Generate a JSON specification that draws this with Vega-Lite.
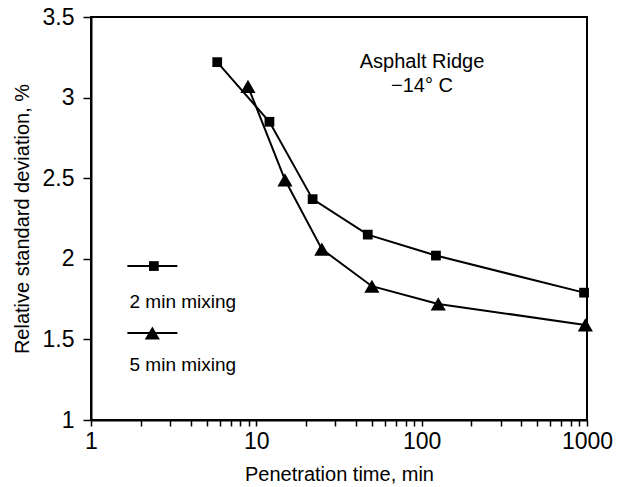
{
  "$schema": "https://vega.github.io/schema/vega-lite/v6.json",
  "width": 496,
  "height": 403,
  "autosize": {"type": "none"},
  "padding": {"left": 91, "top": 17, "right": 47, "bottom": 67},
  "background": "white",
  "config": {
    "font": "Liberation Sans",
    "view": {"stroke": "black", "strokeWidth": 2},
    "axis": {
      "grid": false,
      "domainColor": "black",
      "domainWidth": 2,
      "tickColor": "black",
      "tickWidth": 1.5,
      "labelColor": "black",
      "titleColor": "black",
      "labelFont": "Liberation Sans",
      "titleFont": "Liberation Sans",
      "titleFontWeight": "normal",
      "labelFontSize": 23,
      "titleFontSize": 20
    }
  },
  "datasets": {
    "series": [
      {"time": 5.8, "rsd": 3.22, "mixing": "2 min mixing"},
      {"time": 12.0, "rsd": 2.85, "mixing": "2 min mixing"},
      {"time": 21.9, "rsd": 2.37, "mixing": "2 min mixing"},
      {"time": 47.2, "rsd": 2.15, "mixing": "2 min mixing"},
      {"time": 122, "rsd": 2.02, "mixing": "2 min mixing"},
      {"time": 960, "rsd": 1.79, "mixing": "2 min mixing"},
      {"time": 8.9, "rsd": 3.07, "mixing": "5 min mixing"},
      {"time": 14.9, "rsd": 2.49, "mixing": "5 min mixing"},
      {"time": 24.9, "rsd": 2.06, "mixing": "5 min mixing"},
      {"time": 50, "rsd": 1.83, "mixing": "5 min mixing"},
      {"time": 126, "rsd": 1.72, "mixing": "5 min mixing"},
      {"time": 977, "rsd": 1.59, "mixing": "5 min mixing"}
    ],
    "legend": [
      {"x1": 1.66, "x2": 3.33, "xm": 2.4, "y": 1.955, "ty": 1.73, "tx": 1.71, "mixing": "2 min mixing"},
      {"x1": 1.66, "x2": 3.33, "xm": 2.35, "y": 1.54, "ty": 1.34, "tx": 1.71, "mixing": "5 min mixing"}
    ],
    "notes": [
      {"x": 100.5, "y": 3.22, "text": "Asphalt Ridge"},
      {"x": 100.5, "y": 3.07, "text": "−14° C"}
    ]
  },
  "encoding": {
    "x": {
      "field": "time", "type": "quantitative",
      "scale": {"type": "log", "domain": [1, 1000], "nice": false},
      "axis": {
        "title": "Penetration time, min",
        "values": [1,2,3,4,5,6,7,8,9,10,20,30,40,50,60,70,80,90,100,200,300,400,500,600,700,800,900,1000],
        "labelExpr": "datum.value == 1 || datum.value == 10 || datum.value == 100 || datum.value == 1000 ? toString(datum.value) : ''",
        "tickSize": 6,
        "labelPadding": 4,
        "titlePadding": 11,
        "labelFlush": false,
        "labelOverlap": false
      }
    },
    "y": {
      "field": "rsd", "type": "quantitative",
      "scale": {"domain": [1, 3.5], "nice": false, "zero": false},
      "axis": {
        "title": "Relative standard deviation, %",
        "values": [1, 1.5, 2, 2.5, 3, 3.5],
        "format": "~g",
        "tickSize": 8,
        "labelPadding": 9,
        "titlePadding": 10,
        "labelFlush": false
      }
    }
  },
  "layer": [
    {
      "data": {"name": "series"},
      "mark": {"type": "line", "color": "black", "strokeWidth": 2},
      "encoding": {"detail": {"field": "mixing"}}
    },
    {
      "data": {"name": "series"},
      "mark": {"type": "point", "filled": true, "color": "black", "opacity": 1},
      "encoding": {
        "shape": {
          "field": "mixing", "type": "nominal",
          "scale": {"domain": ["2 min mixing", "5 min mixing"], "range": ["square", "triangle-up"]},
          "legend": null
        },
        "size": {
          "field": "mixing", "type": "nominal",
          "scale": {"domain": ["2 min mixing", "5 min mixing"], "range": [95, 230]},
          "legend": null
        }
      }
    },
    {
      "data": {"name": "legend"},
      "mark": {"type": "rule", "color": "black", "strokeWidth": 2},
      "encoding": {
        "x": {"field": "x1", "type": "quantitative"},
        "x2": {"field": "x2"},
        "y": {"field": "y", "type": "quantitative"}
      }
    },
    {
      "data": {"name": "legend"},
      "mark": {"type": "point", "filled": true, "color": "black", "opacity": 1},
      "encoding": {
        "x": {"field": "xm", "type": "quantitative"},
        "y": {"field": "y", "type": "quantitative"},
        "shape": {
          "field": "mixing", "type": "nominal",
          "scale": {"domain": ["2 min mixing", "5 min mixing"], "range": ["square", "triangle-up"]},
          "legend": null
        },
        "size": {
          "field": "mixing", "type": "nominal",
          "scale": {"domain": ["2 min mixing", "5 min mixing"], "range": [95, 230]},
          "legend": null
        }
      }
    },
    {
      "data": {"name": "legend"},
      "mark": {"type": "text", "align": "left", "baseline": "middle", "fontSize": 19, "color": "black", "font": "Liberation Sans"},
      "encoding": {
        "x": {"field": "tx", "type": "quantitative"},
        "y": {"field": "ty", "type": "quantitative"},
        "text": {"field": "mixing"}
      }
    },
    {
      "data": {"name": "notes"},
      "mark": {"type": "text", "align": "center", "baseline": "middle", "fontSize": 20, "color": "black", "font": "Liberation Sans"},
      "encoding": {
        "x": {"field": "x", "type": "quantitative"},
        "y": {"field": "y", "type": "quantitative"},
        "text": {"field": "text"}
      }
    }
  ]
}
